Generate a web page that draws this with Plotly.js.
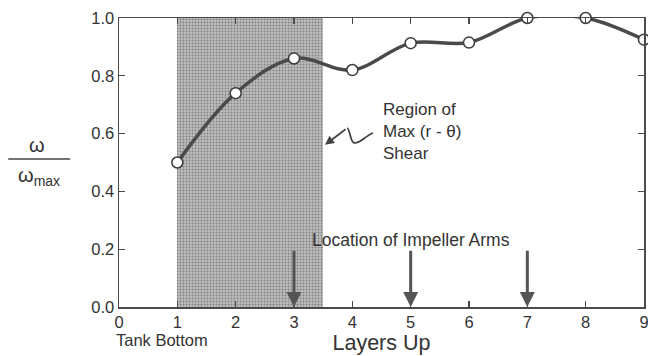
<!DOCTYPE html>
<html>
<head>
<meta charset="utf-8">
<script src="https://cdn.plot.ly/plotly-3.0.1.min.js"></script>
<style>html,body{margin:0;padding:0;background:#fff;}#chart{width:648px;height:356px;}</style>
</head>
<body>
<div id="chart"></div>
<script>
// ---- data ----
const layers = [1, 2, 3, 4, 5, 6, 7, 8, 9];
const omegaRatio = [0.50, 0.74, 0.86, 0.82, 0.913, 0.915, 1.0, 1.0, 0.925];
const xTickVals = [0, 1, 2, 3, 4, 5, 6, 7, 8, 9];
const yTickVals = [0.0, 0.2, 0.4, 0.6, 0.8, 1.0];
const yTickText = ["0.0", "0.2", "0.4", "0.6", "0.8", "1.0"];
const shearRegion = [1, 3.5];           // x extent of shaded region
const shearRegionTop = [1.0];           // shaded height
const impellerArms = [3, 5, 7];         // arrow positions
const impellerArrowTop = 0.2;           // arrow tail height
const FONT = "Liberation Sans, Arial, Helvetica, sans-serif";
const INK = "#333333";

const traces = [
  {
    type: "bar",
    x: [(shearRegion[0] + shearRegion[1]) / 2],
    y: shearRegionTop,
    width: [shearRegion[1] - shearRegion[0]],
    marker: {
      color: "#bdbdbd",
      line: {width: 0},
      pattern: {shape: ".", fgcolor: "#808080", bgcolor: "#bdbdbd", size: 3, solidity: 0.3}
    },
    hoverinfo: "skip",
    showlegend: false
  },
  {
    type: "scatter",
    mode: "lines+markers",
    x: layers,
    y: omegaRatio,
    cliponaxis: false,
    line: {shape: "spline", smoothing: 1, color: "#4a4a4a", width: 3.5},
    marker: {symbol: "circle", size: 11, color: "#ffffff", line: {color: "#3a3a3a", width: 1.5}},
    showlegend: false
  }
];

const annotations = impellerArms.map(a => ({
  x: a, y: 0, xref: "x", yref: "y",
  ax: a, ay: impellerArrowTop, axref: "x", ayref: "y",
  showarrow: true, arrowhead: 2, arrowsize: 1, arrowwidth: 3, arrowcolor: "#555555",
  text: ""
}));

annotations.push(
  {x: 5, y: 0.232, xref: "x", yref: "y", text: "Location of Impeller Arms", showarrow: false,
   font: {family: FONT, size: 17.5, color: INK}, xanchor: "center", yanchor: "middle"},
  {x: 4.49, y: 0.607, xref: "x", yref: "y", text: "Region of<br>Max (r - θ)<br>Shear", showarrow: false,
   align: "left", xanchor: "left", yanchor: "middle", font: {family: FONT, size: 17, color: INK}},
  {x: 3.532, y: 0.561, xref: "x", yref: "y", ax: 3.909, ay: 0.619, axref: "x", ayref: "y",
   showarrow: true, arrowhead: 2, arrowsize: 1, arrowwidth: 1.8, arrowcolor: "#444444", text: ""},
  {x: -0.156, y: 0.56, xref: "paper", yref: "paper", text: "ω", showarrow: false,
   font: {family: FONT, size: 20, color: INK}, xanchor: "center", yanchor: "middle"},
  {x: -0.152, y: 0.45, xref: "paper", yref: "paper", text: "ω<sub>max</sub>", showarrow: false,
   font: {family: FONT, size: 20, color: INK}, xanchor: "center", yanchor: "middle"},
  {x: 0.082, y: -0.114, xref: "paper", yref: "paper", text: "Tank Bottom", showarrow: false,
   font: {family: FONT, size: 16.5, color: INK}, xanchor: "center", yanchor: "middle"}
);

const shapes = [
  {type: "line", xref: "paper", yref: "paper", x0: -0.211, x1: -0.093, y0: 0.512, y1: 0.512,
   line: {color: "#444444", width: 1.5}},
  {type: "path", xref: "x", yref: "y",
   path: "M 4.355,0.602 C 4.217,0.592 4.132,0.564 4.029,0.568 C 3.96,0.571 3.96,0.619 3.909,0.619",
   line: {color: "#444444", width: 1.8}}
];

const axisCommon = {
  showline: true, linecolor: "#4a4a4a", linewidth: 1.5, mirror: "ticks",
  ticks: "inside", ticklen: 6, tickwidth: 1.3, tickcolor: "#4a4a4a",
  showgrid: false, zeroline: false, fixedrange: true, ticklabeloverflow: "allow",
  tickfont: {family: FONT, size: 16.5, color: INK}
};

const layout = {
  width: 648, height: 356,
  margin: {l: 119, r: 4, t: 18, b: 49},
  paper_bgcolor: "#ffffff", plot_bgcolor: "#ffffff",
  showlegend: false,
  bargap: 0,
  xaxis: Object.assign({}, axisCommon, {
    range: [0, 9], tickvals: xTickVals, ticktext: xTickVals.map(String),
    title: {text: "Layers Up", font: {family: FONT, size: 21.5, color: INK}, standoff: 2},
    automargin: false
  }),
  yaxis: Object.assign({}, axisCommon, {
    range: [0, 1], tickvals: yTickVals, ticktext: yTickText, automargin: false
  }),
  annotations: annotations,
  shapes: shapes
};

Plotly.newPlot("chart", traces, layout, {staticPlot: true, displayModeBar: false});
</script>
</body>
</html>
